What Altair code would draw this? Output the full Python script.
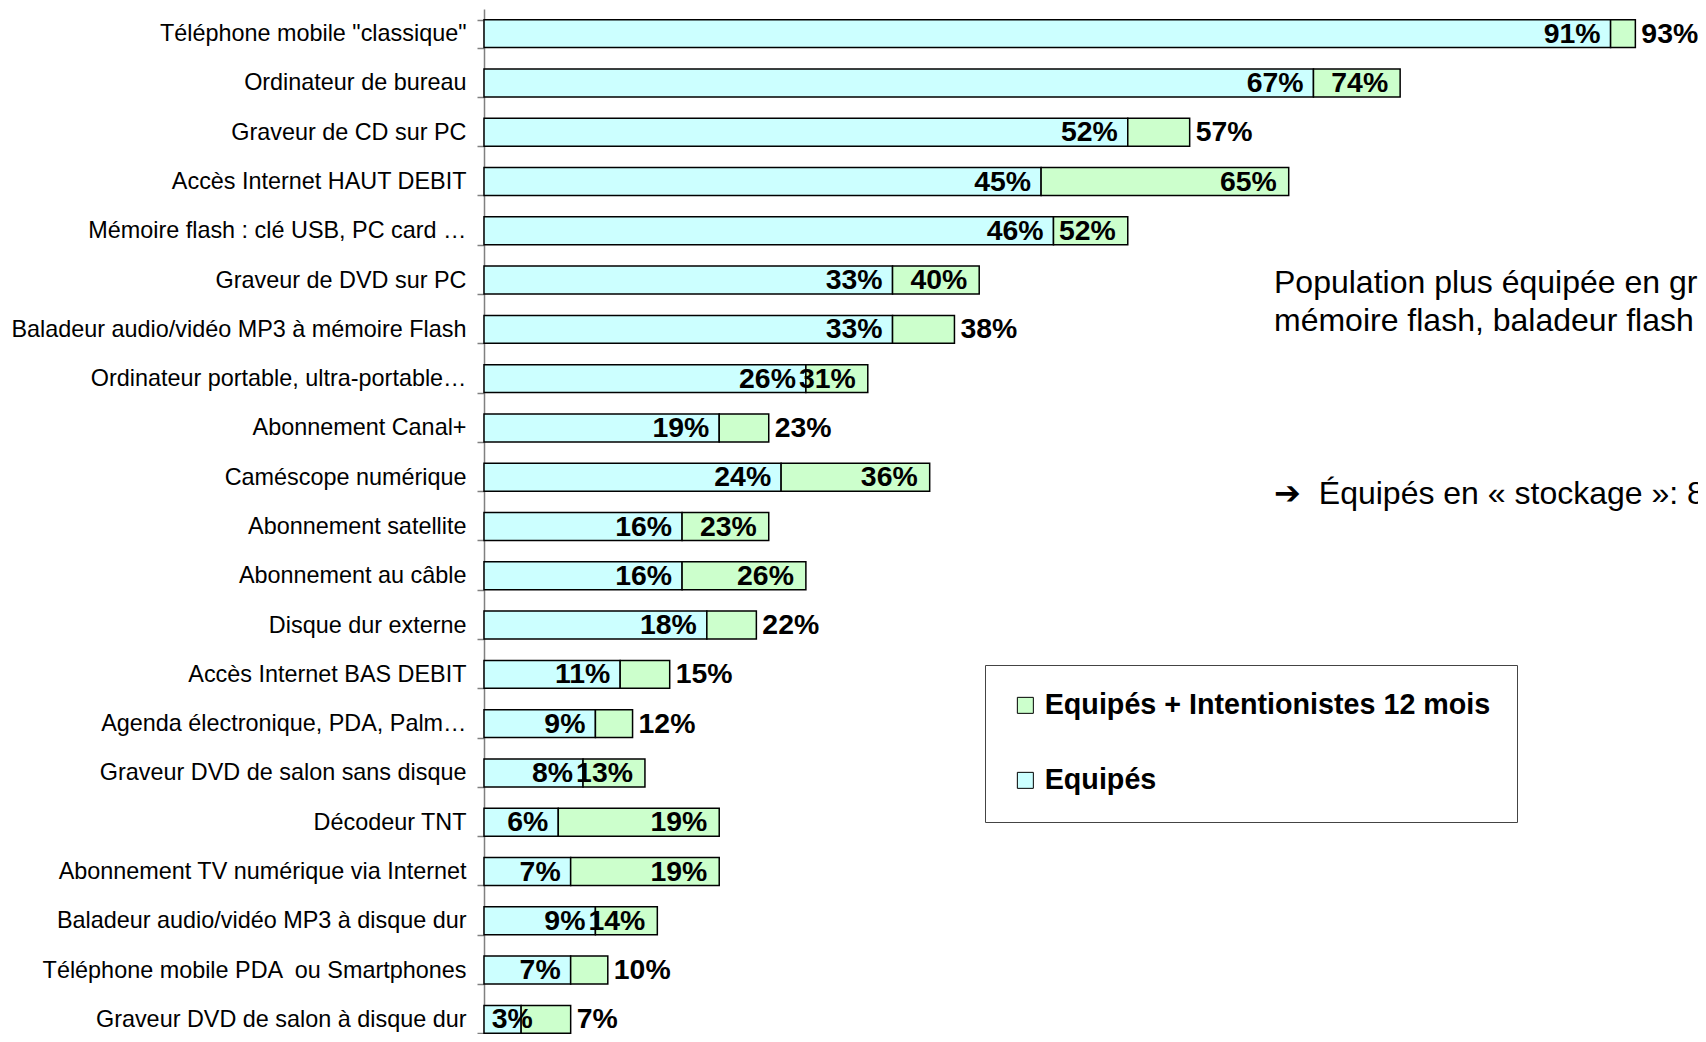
import altair as alt
import pandas as pd

categories = [
    'Téléphone mobile "classique"',
    'Ordinateur de bureau',
    'Graveur de CD sur PC\u00a0',
    'Accès Internet HAUT DEBIT',
    'Mémoire flash : clé USB, PC card …',
    'Graveur de DVD sur PC\u00a0',
    'Baladeur audio/vidéo MP3 à mémoire Flash',
    'Ordinateur portable, ultra-portable…',
    'Abonnement Canal+',
    'Caméscope numérique',
    'Abonnement satellite',
    'Abonnement au câble',
    'Disque dur externe\u00a0\u00a0',
    'Accès Internet BAS DEBIT',
    'Agenda électronique, PDA, Palm…',
    'Graveur DVD de salon sans disque',
    'Décodeur TNT',
    'Abonnement TV numérique via Internet',
    'Baladeur audio/vidéo MP3 à disque dur\u00a0',
    'Téléphone mobile PDA \u00a0ou Smartphones',
    'Graveur DVD de salon à disque dur',
]
equipes = [91, 67, 52, 45, 46, 33, 33, 26, 19, 24, 16, 16, 18, 11, 9, 8, 6, 7, 9, 7, 3]
totals = [93, 74, 57, 65, 52, 40, 38, 31, 23, 36, 23, 26, 22, 15, 12, 13, 19, 19, 14, 10, 7]
total_label_inside = [False, True, False, True, True, True, False, True, False, True, True,
                      True, False, False, False, True, True, True, True, False, False]

series_names = ["Equipés + Intentionistes 12 mois", "Equipés"]
series_colors = ["#CCFFCC", "#CCFFFF"]

note_line1 = "Population plus équipée en gra"
note_line2 = "mémoire flash, baladeur flash"
note_line3 = "➔\u00a0 Équipés en « stockage »: 80"

# long table for the stacked segments
bar_rows = []
for c, e, t in zip(categories, equipes, totals):
    bar_rows.append({"cat": c, "series": series_names[1], "start": 0, "end": e})
    bar_rows.append({"cat": c, "series": series_names[0], "start": e, "end": t})
bars_df = pd.DataFrame(bar_rows)

labels_df = pd.DataFrame({
    "cat": categories,
    "equipes": equipes,
    "total": totals,
    "inside": total_label_inside,
})
labels_df["elab"] = [f"{v}%" for v in equipes]
labels_df["tlab"] = [f"{v}%" for v in totals]

x_scale = alt.Scale(domain=[0, 98.06], nice=False, zero=True)
y_axis = alt.Axis(
    title=None, labelFont="Liberation Sans", labelFontSize=23.4, labelColor="black",
    labelLimit=700, labelPadding=11, tickSize=7, tickColor="#808080", tickWidth=1.5,
    domainColor="#808080", domainWidth=1.5, tickBand="extent",
)
y_enc = alt.Y("cat:N", sort=categories,
              scale=alt.Scale(paddingInner=0.434, paddingOuter=0.217), axis=y_axis)

bars = alt.Chart(bars_df).mark_bar(stroke="black", strokeWidth=1.5).encode(
    y=y_enc,
    x=alt.X("start:Q", scale=x_scale, axis=None),
    x2="end:Q",
    color=alt.Color(
        "series:N",
        scale=alt.Scale(domain=series_names, range=series_colors),
        legend=alt.Legend(
            orient="none", legendX=501, legendY=656, title=None,
            symbolType="square", symbolSize=256, symbolStrokeColor="black",
            symbolStrokeWidth=1, labelFont="Liberation Sans", labelFontSize=28.7,
            labelFontWeight="bold", labelColor="black", labelOffset=5,
            labelLimit=800, rowPadding=45, padding=26, strokeColor="#444444",
            fillColor="white",
        ),
    ),
)

text_style = dict(fontSize=28.4, fontWeight="bold", font="Liberation Sans",
                  color="black", baseline="middle")

blue_labels = alt.Chart(labels_df).transform_calculate(
    bx="max(datum.equipes, 4.75)"
).mark_text(align="right", dx=-10, **text_style).encode(
    y=y_enc, x=alt.X("bx:Q", scale=x_scale, axis=None), text="elab:N"
)

total_in = alt.Chart(labels_df).transform_filter("datum.inside").mark_text(
    align="right", dx=-12, **text_style
).encode(y=y_enc, x=alt.X("total:Q", scale=x_scale, axis=None), text="tlab:N")

total_out = alt.Chart(labels_df).transform_filter("!datum.inside").mark_text(
    align="left", dx=6, **text_style
).encode(y=y_enc, x=alt.X("total:Q", scale=x_scale, axis=None), text="tlab:N")

note_df = pd.DataFrame({"k": [0]})
note_style = dict(align="left", baseline="middle", fontSize=32,
                  font="Liberation Sans", color="black")
note1 = alt.Chart(note_df).mark_text(**note_style).encode(
    x=alt.value(790), y=alt.value(274), text=alt.value(note_line1))
note2 = alt.Chart(note_df).mark_text(**note_style).encode(
    x=alt.value(790), y=alt.value(312), text=alt.value(note_line2))
note3 = alt.Chart(note_df).mark_text(**note_style).encode(
    x=alt.value(790), y=alt.value(485), text=alt.value(note_line3))

chart = alt.layer(bars, blue_labels, total_in, total_out, note1, note2, note3).properties(
    width=1214, height=1035,
    autosize=alt.AutoSizeParams(type="none"),
    padding={"left": 476, "top": 1, "right": 0, "bottom": -10},
).configure_view(strokeWidth=0)

chart.save("out.html", embed_options={"renderer": "svg", "actions": False})
